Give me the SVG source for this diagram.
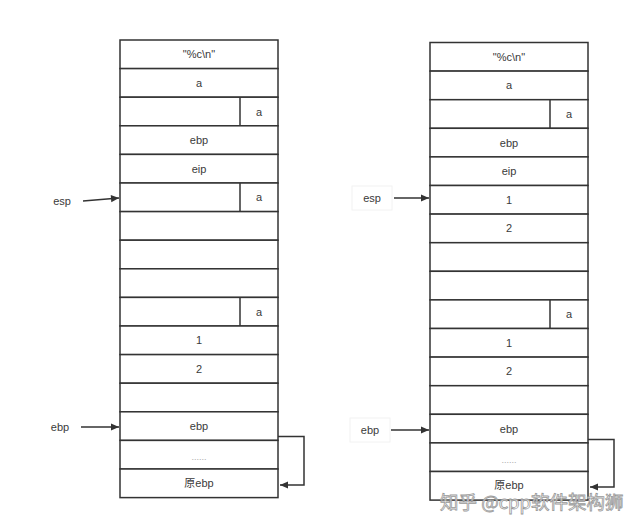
<svg xmlns="http://www.w3.org/2000/svg" width="640" height="528" viewBox="0 0 640 528">
<style>
.c{fill:#fff;stroke:#333;stroke-width:1.5}
.d{stroke:#333;stroke-width:1.5}
.t{font-family:"Liberation Sans",Arial,"Noto Sans CJK SC",sans-serif;font-size:11px;fill:#3a3a3a;text-anchor:middle;dominant-baseline:central}
.dots{font-family:"Liberation Sans",Arial,sans-serif;font-size:9px;fill:#aaa;text-anchor:middle;dominant-baseline:central}
.l{fill:none;stroke:#333;stroke-width:1.5}
.wm{font-family:"Noto Sans CJK SC","Liberation Sans",sans-serif;font-size:18.5px;fill:#fff;fill-opacity:0.85;stroke:#999;stroke-width:0.8;text-anchor:start;dominant-baseline:central}
</style>
<defs>
<marker id="ah2" viewBox="0 0 10 10" refX="10" refY="5" markerWidth="10" markerHeight="8" orient="auto" markerUnits="userSpaceOnUse">
<path d="M0,0.5 L10,5 L0,9.5 z" fill="#333"/>
</marker>
</defs>
<rect width="640" height="528" fill="#fff"/>

<!-- Left stack -->
<g id="L0"><rect class="c" x="120" y="40" width="158" height="28.6"/><text class="t" x="199" y="54.3">"%c\n"</text></g>
<g id="L1"><rect class="c" x="120" y="68.6" width="158" height="28.6"/><text class="t" x="199" y="82.9">a</text></g>
<g id="L2"><rect class="c" x="120" y="97.2" width="158" height="28.6"/><line class="d" x1="240" y1="97.2" x2="240" y2="125.8"/><text class="t" x="259" y="111.5">a</text></g>
<g id="L3"><rect class="c" x="120" y="125.8" width="158" height="28.6"/><text class="t" x="199" y="140.1">ebp</text></g>
<g id="L4"><rect class="c" x="120" y="154.4" width="158" height="28.6"/><text class="t" x="199" y="168.7">eip</text></g>
<g id="L5"><rect class="c" x="120" y="183" width="158" height="28.6"/><line class="d" x1="240" y1="183" x2="240" y2="211.6"/><text class="t" x="259" y="197.3">a</text></g>
<g id="L6"><rect class="c" x="120" y="211.6" width="158" height="28.6"/></g>
<g id="L7"><rect class="c" x="120" y="240.2" width="158" height="28.6"/></g>
<g id="L8"><rect class="c" x="120" y="268.8" width="158" height="28.6"/></g>
<g id="L9"><rect class="c" x="120" y="297.4" width="158" height="28.6"/><line class="d" x1="240" y1="297.4" x2="240" y2="326"/><text class="t" x="259" y="311.7">a</text></g>
<g id="L10"><rect class="c" x="120" y="326" width="158" height="28.6"/><text class="t" x="199" y="340.3">1</text></g>
<g id="L11"><rect class="c" x="120" y="354.6" width="158" height="28.6"/><text class="t" x="199" y="368.9">2</text></g>
<g id="L12"><rect class="c" x="120" y="383.2" width="158" height="28.6"/></g>
<g id="L13"><rect class="c" x="120" y="411.8" width="158" height="28.6"/><text class="t" x="199" y="426.1">ebp</text></g>
<g id="L14"><rect class="c" x="120" y="440.4" width="158" height="28.6"/><text class="dots" x="199" y="457">......</text></g>
<g id="L15"><rect class="c" x="120" y="469" width="158" height="28.6"/><text class="t" x="199" y="483.3">原ebp</text></g>

<!-- Right stack -->
<g id="R0"><rect class="c" x="430" y="42.5" width="158" height="28.6"/><text class="t" x="509" y="56.8">"%c\n"</text></g>
<g id="R1"><rect class="c" x="430" y="71.1" width="158" height="28.6"/><text class="t" x="509" y="85.4">a</text></g>
<g id="R2"><rect class="c" x="430" y="99.7" width="158" height="28.6"/><line class="d" x1="550" y1="99.7" x2="550" y2="128.3"/><text class="t" x="569" y="114">a</text></g>
<g id="R3"><rect class="c" x="430" y="128.3" width="158" height="28.6"/><text class="t" x="509" y="142.6">ebp</text></g>
<g id="R4"><rect class="c" x="430" y="156.9" width="158" height="28.6"/><text class="t" x="509" y="171.2">eip</text></g>
<g id="R5"><rect class="c" x="430" y="185.5" width="158" height="28.6"/><text class="t" x="509" y="199.8">1</text></g>
<g id="R6"><rect class="c" x="430" y="214.1" width="158" height="28.6"/><text class="t" x="509" y="228.4">2</text></g>
<g id="R7"><rect class="c" x="430" y="242.7" width="158" height="28.6"/></g>
<g id="R8"><rect class="c" x="430" y="271.3" width="158" height="28.6"/></g>
<g id="R9"><rect class="c" x="430" y="299.9" width="158" height="28.6"/><line class="d" x1="550" y1="299.9" x2="550" y2="328.5"/><text class="t" x="569" y="314.2">a</text></g>
<g id="R10"><rect class="c" x="430" y="328.5" width="158" height="28.6"/><text class="t" x="509" y="342.8">1</text></g>
<g id="R11"><rect class="c" x="430" y="357.1" width="158" height="28.6"/><text class="t" x="509" y="371.4">2</text></g>
<g id="R12"><rect class="c" x="430" y="385.7" width="158" height="28.6"/></g>
<g id="R13"><rect class="c" x="430" y="414.3" width="158" height="28.6"/><text class="t" x="509" y="428.6">ebp</text></g>
<g id="R14"><rect class="c" x="430" y="442.9" width="158" height="28.6"/><text class="dots" x="509" y="459.5">......</text></g>
<g id="R15"><rect class="c" x="430" y="471.5" width="158" height="28.6"/><text class="t" x="509" y="484.8">原ebp</text></g>

<!-- Pointer labels -->
<g id="espL"><text class="t" x="62" y="201">esp</text></g>
<g id="ebpL"><text class="t" x="60" y="427">ebp</text></g>
<g id="espR"><rect x="352" y="186" width="40" height="24" fill="#fff" stroke="#f2f2f2" stroke-width="1"/><text class="t" x="372" y="198">esp</text></g>
<g id="ebpR"><rect x="350" y="418" width="40" height="24" fill="#fff" stroke="#f2f2f2" stroke-width="1"/><text class="t" x="370" y="430">ebp</text></g>

<!-- Connectors -->
<g id="connectors">
<line class="l" x1="83" y1="201" x2="119" y2="198" marker-end="url(#ah2)"/>
<line class="l" x1="81" y1="427" x2="119" y2="427" marker-end="url(#ah2)"/>
<line class="l" x1="394" y1="198" x2="429" y2="198" marker-end="url(#ah2)"/>
<line class="l" x1="391" y1="430" x2="429" y2="430" marker-end="url(#ah2)"/>
<polyline class="l" points="278,436.5 304,436.5 304,485 280,485" marker-end="url(#ah2)"/>
<polyline class="l" points="588,439.5 614,439.5 614,487 590,487" marker-end="url(#ah2)"/>
</g>

<text class="wm" x="440" y="501">知乎 @cpp软件架构狮</text>
</svg>
